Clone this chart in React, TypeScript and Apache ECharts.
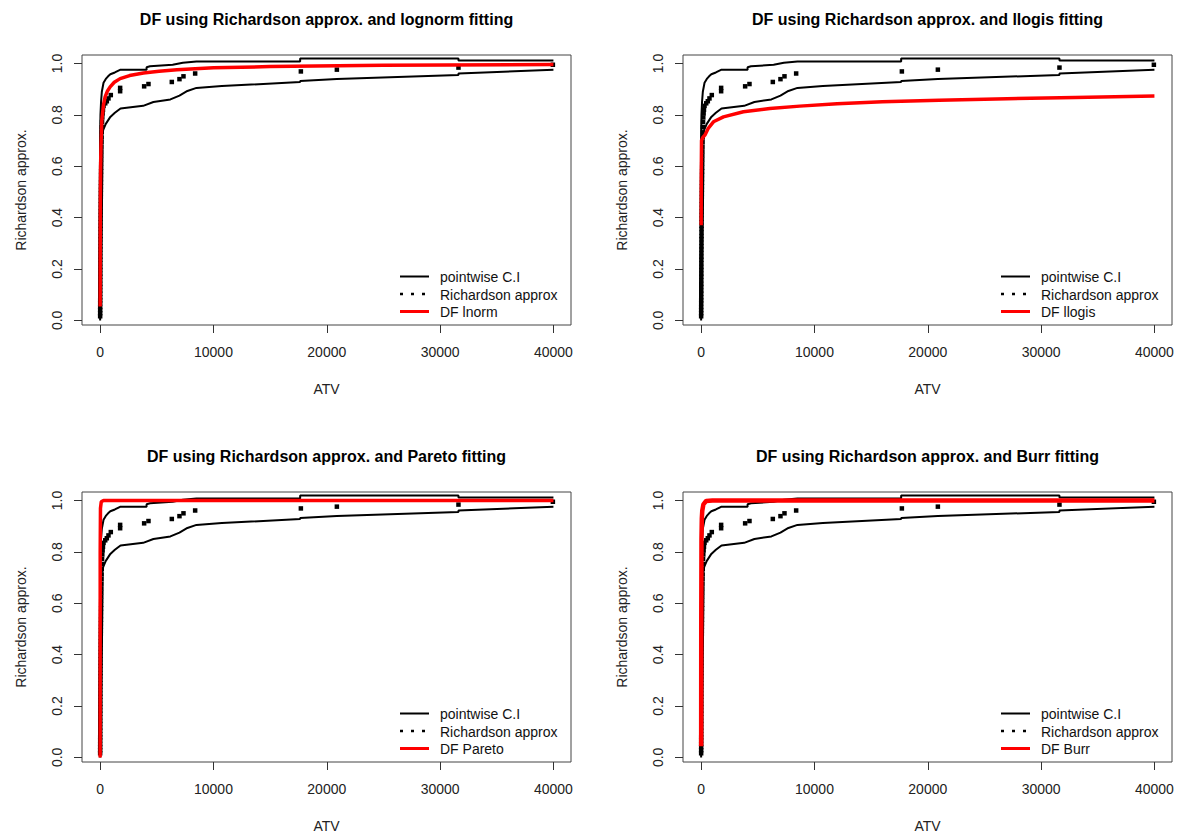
import React, { useEffect, useRef } from "react";
import * as echarts from "echarts";

const FONT = '"Liberation Sans", Arial, Helvetica, sans-serif';

// Axis ticks
const xTicks = [0, 10000, 20000, 30000, 40000];
const yTicks = [0, 0.2, 0.4, 0.6, 0.8, 1.0];

// Richardson approx points [ATV, DF]: dense column of small ATV values
const richColumn = [
  [2, 0.016], [3, 0.028], [4, 0.040], [5, 0.052], [6, 0.066], [7, 0.078], [8, 0.090], [9, 0.104],
  [10, 0.116], [11, 0.130], [12, 0.142], [13, 0.156], [14, 0.170], [15, 0.182], [16, 0.196],
  [17, 0.208], [18, 0.222], [19, 0.236], [20, 0.248], [22, 0.262], [24, 0.276], [26, 0.288],
  [28, 0.302], [30, 0.316], [32, 0.328], [34, 0.342], [36, 0.356], [38, 0.368], [40, 0.382],
  [42, 0.396], [45, 0.410], [48, 0.424], [51, 0.438], [54, 0.452], [57, 0.466], [60, 0.480],
  [63, 0.494], [66, 0.508], [70, 0.522], [74, 0.536], [78, 0.550], [82, 0.566], [86, 0.580],
  [90, 0.594], [95, 0.610], [100, 0.626], [105, 0.642], [110, 0.658], [118, 0.676], [126, 0.694],
  [134, 0.712], [142, 0.732], [150, 0.752], [170, 0.772], [190, 0.790], [220, 0.806], [250, 0.820],
];
// Richardson approx points [ATV, DF]: larger ATV values
const richTail = [
  [300, 0.835], [450, 0.845], [590, 0.853], [736, 0.864], [941, 0.877], [1765, 0.892], [1765, 0.905],
  [3883, 0.911], [4266, 0.920], [6325, 0.928], [7001, 0.939], [7355, 0.950], [8385, 0.961],
  [17713, 0.969], [20890, 0.976], [31620, 0.984], [39950, 0.995],
];

// Pointwise confidence interval bounds
const upperX = [0, 0, 30, 80, 150, 300, 500, 700, 900, 1300, 1800, 4100, 4100, 4400, 6400, 7300, 8500, 17650, 17650, 31620, 31620, 40000];
const upperY = [0.05, 0.72, 0.80, 0.85, 0.89, 0.925, 0.94, 0.95, 0.958, 0.965, 0.976, 0.976, 0.985, 0.989, 0.995, 1.003, 1.008, 1.008, 1.019, 1.019, 1.012, 1.012];
const lowerX = [0, 0, 100, 300, 500, 900, 1300, 1800, 3800, 4700, 6200, 7000, 7700, 8500, 10740, 17650, 17650, 20890, 31620, 31620, 40000];
const lowerY = [0.0, 0.69, 0.715, 0.745, 0.765, 0.792, 0.808, 0.825, 0.835, 0.85, 0.86, 0.875, 0.893, 0.905, 0.912, 0.928, 0.932, 0.94, 0.955, 0.961, 0.976];

// Fitted distribution functions
const lnormX = [2, 5, 10, 20, 40, 80, 150, 300, 441, 650, 883, 1250, 1765, 2600, 3825, 5200, 6770, 10000, 15000, 25000, 40000];
const lnormY = [0.054, 0.2, 0.35, 0.48, 0.6, 0.69, 0.78, 0.84, 0.87, 0.893, 0.909, 0.927, 0.941, 0.953, 0.963, 0.970, 0.976, 0.983, 0.988, 0.993, 0.996];
const llogisX = [2, 10, 35, 150, 330, 620, 1085, 1970, 3730, 6060, 8700, 12000, 16000, 21000, 27000, 33000, 40000];
const llogisY = [0.37, 0.55, 0.70, 0.712, 0.721, 0.747, 0.773, 0.792, 0.812, 0.825, 0.834, 0.843, 0.851, 0.857, 0.863, 0.868, 0.873];
const paretoX = [0, 5, 30, 100, 300, 40000];
const paretoY = [0.0, 0.8, 0.97, 0.995, 1.0, 1.0];
const burrX = [2, 10, 30, 60, 100, 200, 440, 1000, 40000];
const burrY = [0.043, 0.5, 0.85, 0.93, 0.96, 0.985, 0.998, 1.0, 1.0];

const panels = [
  { title: "DF using Richardson approx. and lognorm fitting", label: "DF lnorm", fx: lnormX, fy: lnormY, left: 82, top: 55, rw: 3.5 },
  { title: "DF using Richardson approx. and llogis fitting", label: "DF llogis", fx: llogisX, fy: llogisY, left: 683, top: 55, rw: 3.5 },
  { title: "DF using Richardson approx. and Pareto fitting", label: "DF Pareto", fx: paretoX, fy: paretoY, left: 82, top: 492, rw: 3.5 },
  { title: "DF using Richardson approx. and Burr fitting", label: "DF Burr", fx: burrX, fy: burrY, left: 683, top: 492, rw: 4.5 },
];

const GW = 489;
const GH = 270;
const zip = (xs: number[], ys: number[]) => xs.map((x, i) => [x, ys[i]]);

export default function App() {
  const ref = useRef<HTMLDivElement>(null);
  useEffect(() => {
    if (!ref.current) return;
    const chart = echarts.init(ref.current, null, { renderer: "svg" });
    const grids: any[] = [];
    const xAxes: any[] = [];
    const yAxes: any[] = [];
    const series: any[] = [];
    const titles: any[] = [];
    const graphics: any[] = [];
    panels.forEach((p, i) => {
      grids.push({ left: p.left, top: p.top, width: GW, height: GH, show: true, borderColor: "#444", borderWidth: 1, backgroundColor: "transparent" });
      xAxes.push({
        type: "value", gridIndex: i, min: -1600, max: 41550,
        axisLine: { show: false, onZero: false },
        axisTick: { show: true, length: 8, customValues: xTicks, lineStyle: { color: "#333" } },
        axisLabel: { customValues: xTicks, margin: 20, fontSize: 14, color: "#222", fontFamily: FONT, formatter: (v: number) => String(v) },
        splitLine: { show: false },
        name: "ATV", nameLocation: "middle", nameGap: 57,
        nameTextStyle: { fontSize: 14, color: "#222", fontFamily: FONT },
      });
      yAxes.push({
        type: "value", gridIndex: i, min: -0.018, max: 1.033,
        axisLine: { show: false, onZero: false },
        axisTick: { show: true, length: 8, customValues: yTicks, lineStyle: { color: "#333" } },
        axisLabel: { customValues: yTicks, rotate: 90, margin: 18, fontSize: 14, color: "#222", fontFamily: FONT, formatter: (v: number) => v.toFixed(1) },
        splitLine: { show: false },
        name: "Richardson approx.", nameLocation: "middle", nameGap: 54,
        nameTextStyle: { fontSize: 14, color: "#222", fontFamily: FONT },
      });
      series.push({ type: "line", xAxisIndex: i, yAxisIndex: i, data: zip(upperX, upperY), showSymbol: false, lineStyle: { color: "#000", width: 2 }, z: 2 });
      series.push({ type: "line", xAxisIndex: i, yAxisIndex: i, data: zip(lowerX, lowerY), showSymbol: false, lineStyle: { color: "#000", width: 2 }, z: 2 });
      series.push({ type: "scatter", xAxisIndex: i, yAxisIndex: i, data: richColumn.concat(richTail), symbol: "rect", symbolSize: [4.5, 4.5], itemStyle: { color: "#000", opacity: 1 }, z: 3 });
      series.push({ type: "line", xAxisIndex: i, yAxisIndex: i, data: zip(p.fx, p.fy), showSymbol: false, lineStyle: { color: "#ff0000", width: p.rw }, z: 4 });
      titles.push({
        text: p.title, left: p.left + GW / 2, top: p.top - 44, textAlign: "center", padding: 0,
        textStyle: { fontSize: 16, fontWeight: "bold", color: "#000", fontFamily: FONT },
      });
      const lx = p.left + 318;
      const ty = p.top + 222;
      const rows = [
        { t: "pointwise C.I", c: "#000", dash: undefined as any, w: 2 },
        { t: "Richardson approx", c: "#000", dash: [3, 8], w: 2.5 },
        { t: p.label, c: "#ff0000", dash: undefined as any, w: 3 },
      ];
      rows.forEach((r, k) => {
        const y = ty + k * 17.5;
        graphics.push({ type: "line", shape: { x1: lx, y1: y - 0.5, x2: lx + 29, y2: y - 0.5 }, style: { stroke: r.c, lineWidth: r.w, lineDash: r.dash }, z: 10 });
        graphics.push({ type: "text", x: lx + 40, y, style: { text: r.t, fontSize: 14, fontFamily: FONT, fill: "#111", verticalAlign: "middle", align: "left" }, z: 10 });
      });
    });
    chart.setOption({
      animation: false,
      backgroundColor: "#fff",
      title: titles,
      grid: grids,
      xAxis: xAxes,
      yAxis: yAxes,
      series,
      graphic: graphics,
    });
    return () => chart.dispose();
  }, []);
  return <div ref={ref} style={{ position: "absolute", left: 0, top: 0, width: 1179, height: 837 }} />;
}
